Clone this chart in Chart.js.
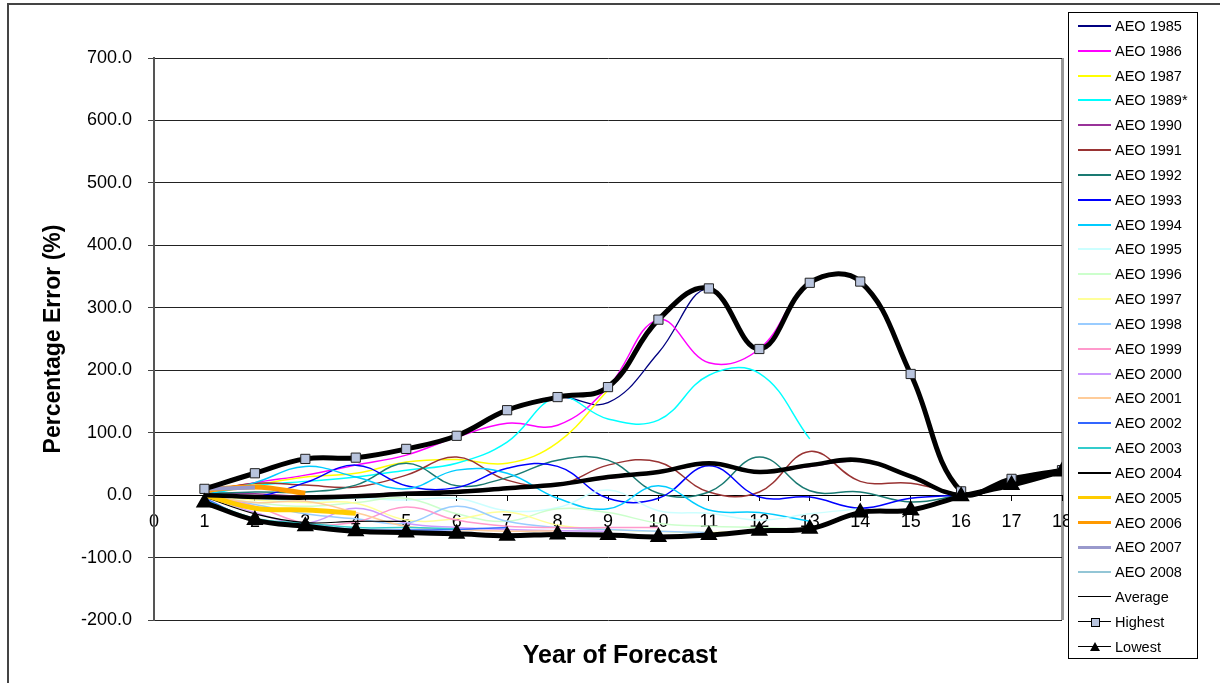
<!DOCTYPE html>
<html>
<head>
<meta charset="utf-8">
<script src="https://cdn.jsdelivr.net/npm/chart.js@4"></script>
<style>
  body { margin: 0; background: #fff; font-family: "Liberation Sans", Arial, sans-serif; }
  #wrap { position: relative; width: 1220px; height: 683px; overflow: hidden; }
  #frame { position: absolute; left: 7px; top: 3px; width: 1300px; height: 800px; border: 2px solid #444; box-sizing: border-box; }
  #xtitle { position: absolute; left: 0; width: 1240px; top: 640px; text-align: center; font-weight: bold; font-size: 25px; }
  #legend { position: absolute; left: 1068px; top: 12px; width: 130px; height: 647px; border: 1.5px solid #000; background: #fff; box-sizing: border-box; }
  .item { position: absolute; left: 0; height: 20px; width: 128px; }
  .sample { position: absolute; left: 9px; width: 33px; top: 9px; }
  .txt { position: absolute; left: 46px; top: 1px; font-size: 14.5px; color: #000; white-space: nowrap; }
  .mk { position: absolute; }
</style>
</head>
<body>
<div id="wrap">
  <canvas id="chart" width="1220" height="683"></canvas>
  <div id="frame"></div>
  <div id="xtitle">Year of Forecast</div>
  <div id="legend"></div>
</div>
<script>
// year of forecast on the x axis
const years = [0, 1, 2, 3, 4, 5, 6, 7, 8, 9, 10, 11, 12, 13, 14, 15, 16, 17, 18]

// percentage error by year of forecast
const aeo1985 = [10, 35, 58, 60, 74, 95, 136, 157, 148, 228, 331, 234, 340, 342, 194, 6, 24, 40]
const aeo1986 = [5, 20, 32, 48, 64, 93, 115, 112, 173, 281, 212, 234, 340, 342, 194, 6, 24]
const aeo1987 = [2, 16, 29, 35, 53, 57, 51, 84, 168]
const aeo1989 = [0, 15, 22, 29, 40, 51, 85, 157, 122, 120, 192, 195, 90]
const aeo1990 = [3, 2, -2, 0, 4, 7, 12, 17, 27, 36, 49, 38, 46, 54, 31, 0, 21, 39]
const aeo1991 = [5, 19, 16, 13, 32, 61, 24, 16, 48, 53, 5, 5, 70, 22, 19, 0]
const aeo1992 = [2, 5, 5, 16, 51, 15, 28, 56, 56, 3, 5, 61, 7, 5, -11, 0]
const aeo1993 = [0, -3, 20, 48, 15, 12, 43, 46, -5, -5, 47, -3, -3, -21, -5, 0]
const aeo1994 = [0, 20, 46, 29, 10, 40, 35, -5, -22, 15, -24, -28, -42]
const aeo1995 = [2, -5, -10, -5, -8, -5, -25, -20, 8, -25, -29, -40, -30, -22]
const aeo1996 = [0, -12, -18, -12, -5, -30, -42, -22, -28, -45, -50, -52, -55]
const aeo1997 = [0, -8, -12, -13, -40, -38, -27, -48, -55, -58, -60, -57]
const aeo1998 = [0, -15, -30, -38, -45, -18, -42, -52, -55, -58, -60]
const aeo1999 = [0, -18, -45, -43, -19, -40, -50, -52, -52, -52]
const aeo2000 = [0, -28, -45, -21, -45, -52, -55, -57, -58]
const aeo2001 = [0, -12, -10, -28, -50, -55, -58, -57]
const aeo2002 = [-5, -40, -47, -55, -56, -55, -52]
const aeo2003 = [-8, -37, -45, -52, -52, -54]
const aeo2004 = [-3, -30, -44, -42, -42]
const aeo2005 = [0, -21, -24, -29]
const aeo2006 = [8, 13, 3]
const aeo2007 = [10, 12]
const aeo2008 = [-10]
const average = [0, -3, -4, -2, 2, 5, 11, 17, 29, 37, 51, 37, 48, 56, 30, 0, 22, 40]
const highest = [10, 35, 58, 60, 74, 95, 136, 157, 173, 281, 331, 234, 340, 342, 194, 6, 26, 40]
const lowest = [-12, -40, -50, -58, -60, -62, -65, -63, -64, -67, -64, -57, -54, -28, -24, -2, 16, 38]

const yTicks = [-200, -100, 0, 100, 200, 300, 400, 500, 600, 700]

const seriesNames = ['AEO 1985', 'AEO 1986', 'AEO 1987', 'AEO 1989*', 'AEO 1990', 'AEO 1991', 'AEO 1992',
  'AEO 1993', 'AEO 1994', 'AEO 1995', 'AEO 1996', 'AEO 1997', 'AEO 1998', 'AEO 1999', 'AEO 2000',
  'AEO 2001', 'AEO 2002', 'AEO 2003', 'AEO 2004', 'AEO 2005', 'AEO 2006', 'AEO 2007', 'AEO 2008',
  'Average', 'Highest', 'Lowest']
const seriesValues = [aeo1985, aeo1986, aeo1987, aeo1989, aeo1990, aeo1991, aeo1992, aeo1993, aeo1994,
  aeo1995, aeo1996, aeo1997, aeo1998, aeo1999, aeo2000, aeo2001, aeo2002, aeo2003, aeo2004, aeo2005,
  aeo2006, aeo2007, aeo2008, average, highest, lowest]
const seriesColors = ['#000080', '#FF00FF', '#FFFF00', '#00FFFF', '#993399', '#993333', '#1A7A72',
  '#0000FF', '#00CCFF', '#CCFFFF', '#CCFFCC', '#FFFF99', '#99CCFF', '#FF99CC', '#CC99FF',
  '#FFCC99', '#3366FF', '#33CCCC', '#000000', '#FFCC00', '#FF9900', '#9999CC', '#93C6D6',
  '#000000', '#000000', '#000000']
const seriesWidths = [1.3, 1.5, 1.5, 1.5, 1.5, 1.5, 1.5, 1.5, 1.5, 1.5, 1.5, 1.5, 1.5, 1.5, 1.5,
  1.5, 1.5, 1.5, 1.2, 5, 5, 4, 1.5, 4.5, 5, 5]

const FONT = '"Liberation Sans", Arial, sans-serif'

const datasets = seriesNames.map((name, i) => {
  const ds = {
    label: name,
    data: seriesValues[i].map((v, j) => ({ x: j + 1, y: v })),
    borderColor: seriesColors[i],
    backgroundColor: seriesColors[i],
    borderWidth: seriesWidths[i],
    pointRadius: 0,
    tension: 0.4,
    fill: false,
    order: seriesNames.length - i,
  }
  if (name === 'Highest') {
    ds.pointStyle = 'rect'
    ds.pointRadius = 6.5
    ds.pointBackgroundColor = '#B8C4DE'
    ds.pointBorderColor = '#222'
    ds.pointBorderWidth = 1
  }
  if (name === 'Lowest') {
    ds.pointStyle = 'triangle'
    ds.pointRadius = 5
    ds.pointBackgroundColor = '#000'
    ds.pointBorderColor = '#000'
  }
  return ds
})

const config = {
  type: 'line',
  data: { datasets },
  options: {
    responsive: false,
    animation: false,
    devicePixelRatio: 1,
    layout: { padding: { left: 0, top: 58, right: 158, bottom: 63 } },
    plugins: { legend: { display: false }, tooltip: { enabled: false } },
    scales: {
      x: {
        type: 'linear',
        position: { y: 0 },
        min: 0,
        max: 18,
        afterFit: (s) => { s.height = 0 },
        afterBuildTicks: (s) => { s.ticks = years.map(v => ({ value: v })) },
        ticks: { color: '#000', font: { family: FONT, size: 18 }, padding: 11, maxRotation: 0, autoSkip: false },
        grid: {
          drawOnChartArea: true,
          color: (c) => (c.tick && c.tick.value === 18 ? '#999' : 'rgba(0,0,0,0)'),
          lineWidth: (c) => (c.tick && c.tick.value === 18 ? 3 : 1),
          tickColor: '#000',
          tickWidth: 1,
          tickLength: 5,
        },
        border: { display: true, color: '#000', width: 1 },
      },
      y: {
        min: -200,
        max: 700,
        afterFit: (s) => { s.width = 154 },
        afterBuildTicks: (s) => { s.ticks = yTicks.map(v => ({ value: v })) },
        ticks: {
          color: '#000',
          font: { family: FONT, size: 18 },
          padding: 16,
          callback: (v) => v.toFixed(1),
        },
        grid: { color: '#222', lineWidth: 1, tickLength: 6, tickColor: '#444' },
        border: { display: true, color: '#555', width: 2 },
        title: {
          display: true,
          text: 'Percentage Error (%)',
          color: '#000',
          font: { family: FONT, size: 23, weight: 'bold' },
          padding: { top: 40, bottom: 0 },
        },
      },
    },
  },
}

const ctx = document.getElementById('chart')
window.myLine = new Chart(ctx, config)

// legend box built from the same arrays
const legend = document.getElementById('legend')
seriesNames.forEach((name, i) => {
  const item = document.createElement('div')
  item.className = 'item'
  item.style.top = (4 + i * 24.83) + 'px'
  const sample = document.createElement('div')
  sample.className = 'sample'
  const thick = seriesWidths[i] >= 4 && i < 23 ? 3 : 2
  sample.style.borderTop = thick + 'px solid ' + seriesColors[i]
  sample.style.marginTop = (-thick / 2) + 'px'
  if (i >= 23) sample.style.borderTopWidth = '1.5px'
  item.appendChild(sample)
  if (name === 'Highest') {
    const m = document.createElement('div')
    m.className = 'mk'
    m.style.cssText = 'left:22px;top:5px;width:7px;height:7px;background:#B8C4DE;border:1px solid #000;'
    item.appendChild(m)
  }
  if (name === 'Lowest') {
    const m = document.createElement('div')
    m.className = 'mk'
    m.style.cssText = 'left:21px;top:4px;width:0;height:0;border-left:5px solid transparent;border-right:5px solid transparent;border-bottom:9px solid #000;'
    item.appendChild(m)
  }
  const t = document.createElement('div')
  t.className = 'txt'
  t.textContent = name
  item.appendChild(t)
  legend.appendChild(item)
})
</script>
</body>
</html>
